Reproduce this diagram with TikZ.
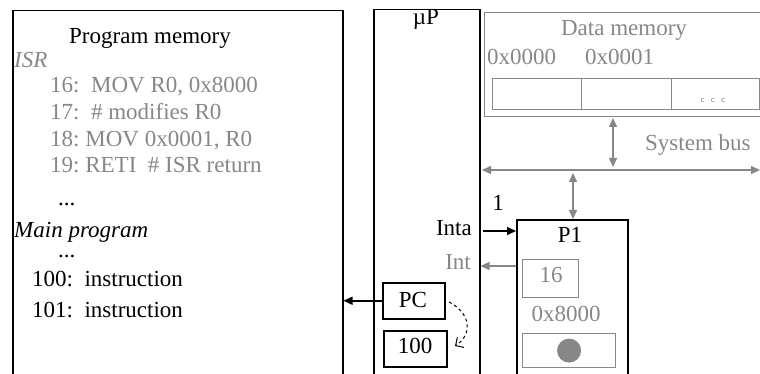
\documentclass[tikz,border=0pt]{standalone}
\usepackage{fontspec}
\setmainfont{Liberation Serif}
\usetikzlibrary{arrows.meta}
\definecolor{dimgray}{RGB}{135,135,135}
\tikzset{
  box/.style={draw, line width=1.5pt, inner sep=0pt, anchor=north west},
  graybox/.style={draw=dimgray, line width=1.2pt, inner sep=0pt, anchor=north west},
  txt/.style={inner sep=0pt, anchor=base, font=\fontsize{23}{26}\selectfont},
  gtxt/.style={txt, text=dimgray},
  lt/.style={txt, anchor=base west},
  glt/.style={gtxt, anchor=base west},
  bus/.style={draw=dimgray, line width=1.5pt, {Triangle[length=9pt,width=8pt]}-{Triangle[length=9pt,width=8pt]}},
  sig/.style={line width=1.5pt, -{Triangle[length=9pt,width=8pt]}}
}
\begin{document}
\begin{tikzpicture}[x=1pt, y=-1pt]
      \useasboundingbox (0,0) rectangle (760,374);
      \clip (0,0) rectangle (760,374);

      % program memory
      \node[box, minimum width=330pt, minimum height=400pt] (progmem) at (12,10) {};
      \node[txt] (pmtitle) at (150,44) {Program memory};
      \node[glt, font=\fontsize{23}{26}\selectfont\itshape] (isr) at (14,68) {ISR};
      \node[glt] (l16) at (50,93) {16:\ \ MOV R0, 0x8000};
      \node[glt] (l17) at (50,120) {17:\ \ \# modifies R0};
      \node[glt] (l18) at (50,147) {18:\ MOV 0x0001, R0};
      \node[glt] (l19) at (50,173) {19:\ RETI\ \ \# ISR return};
      \node[lt] (dots1) at (58,205) {...};
      \node[lt, font=\fontsize{23}{26}\selectfont\itshape] (mainp) at (14,237) {Main program};
      \node[lt] (dots2) at (58,257) {...};
      \node[lt] (l100) at (32,286) {100:\ \ instruction};
      \node[lt] (l101) at (32,317) {101:\ \ instruction};

      % processor
      \node[box, minimum width=106pt, minimum height=400pt] (up) at (373,9) {};
      \node[txt] (uplabel) at (426,25) {µP};
      \node[box, minimum width=62pt, minimum height=36pt] (pc) at (382,282) {};
      \node[txt] (pclabel) at (413,307) {PC};
      \node[box, minimum width=63pt, minimum height=36pt] (hund) at (383,330) {};
      \node[txt] (hundlabel) at (415,353) {100};
      \node[txt, anchor=base east] (inta) at (472,236) {Inta};
      \node[gtxt, anchor=base east] (int) at (471,269) {Int};

      % data memory
      \node[graybox, minimum width=300pt, minimum height=104pt] (dmem) at (484,12) {};
      \node[gtxt] (dmtitle) at (624,36) {Data memory};
      \node[glt] (a0) at (487,65) {0x0000};
      \node[glt] (a1) at (585,65) {0x0001};
      \node[graybox, minimum width=89pt, minimum height=31pt] (c0) at (492,78) {};
      \node[graybox, minimum width=90pt, minimum height=31pt] (c1) at (581,78) {};
      \node[graybox, minimum width=88pt, minimum height=31pt] (c2) at (671,78) {};
      \node[inner sep=0pt, text=dimgray, font=\sffamily\fontsize{9}{10}\selectfont] (ccc) at (713,100) {c\ \ c\ \ c};

      % system bus
      \coordinate (busl) at (482,170);
      \coordinate (busr) at (760,170);
      \draw[bus] (busl) -- (busr);
      \node[glt] (buslabel) at (645,151) {System bus};
      \draw[bus] (613,118) -- (613,167);

      % peripheral
      \node[box, minimum width=111pt, minimum height=200pt] (p1) at (516,219) {};
      \node[txt] (p1label) at (570,242) {P1};
      \node[graybox, minimum width=56pt, minimum height=38pt] (reg) at (522,259) {};
      \node[gtxt] (reglabel) at (551,282) {16};
      \node[gtxt] (vec) at (566,321) {0x8000};
      \node[graybox, minimum width=93pt, minimum height=34pt] (flag) at (522,333) {};
      \fill[dimgray] (flag.center) circle (12pt);
      \draw[bus] (573,173) -- (p1.north -| 573,0);
      \node[txt] (one) at (498,211) {1};

      \draw[sig] (up.east |- 0,231) ++(2,0) -- (p1.west |- 0,231);
      \draw[sig, draw=dimgray] (p1.west |- 0,266) -- (up.east |- 0,266);
      \draw[sig] (pc.west) -- (progmem.east |- pc.west);
      \draw[dashed, line width=1pt, -{Straight Barb[length=6pt]}] (449,302) .. controls (472,314) and (472,335) .. (455,346);
\end{tikzpicture}
\end{document}
